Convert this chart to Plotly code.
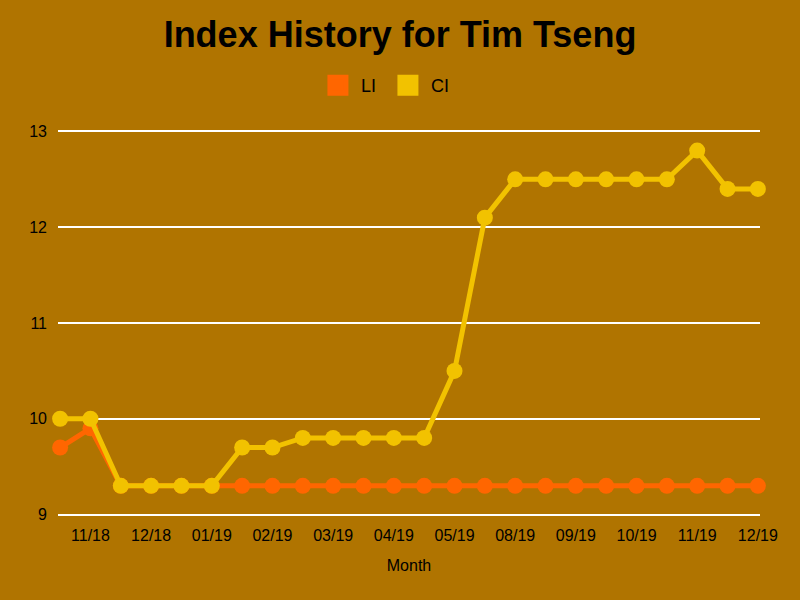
import plotly.graph_objects as go

# 24 monthly-ish readings, labels on every second point
points = list(range(24))
tick_idx = [1, 3, 5, 7, 9, 11, 13, 15, 17, 19, 21, 23]
tick_labels = ["11/18", "12/18", "01/19", "02/19", "03/19", "04/19",
               "05/19", "08/19", "09/19", "10/19", "11/19", "12/19"]

li_values = [9.7, 9.9, 9.3, 9.3, 9.3, 9.3, 9.3, 9.3, 9.3, 9.3, 9.3, 9.3,
             9.3, 9.3, 9.3, 9.3, 9.3, 9.3, 9.3, 9.3, 9.3, 9.3, 9.3, 9.3]
ci_values = [10.0, 10.0, 9.3, 9.3, 9.3, 9.3, 9.7, 9.7, 9.8, 9.8, 9.8, 9.8,
             9.8, 10.5, 12.1, 12.5, 12.5, 12.5, 12.5, 12.5, 12.5, 12.8, 12.4, 12.4]

BG = "#b07400"
LI_COLOR = "#ff6600"
CI_COLOR = "#f2c200"

fig = go.Figure()
fig.add_trace(go.Scatter(
    x=points, y=li_values, name="LI", mode="lines+markers", showlegend=False,
    line=dict(color=LI_COLOR, width=5), cliponaxis=False,
    marker=dict(color=LI_COLOR, size=16),
))
fig.add_trace(go.Scatter(
    x=points, y=ci_values, name="CI", mode="lines+markers", showlegend=False,
    line=dict(color=CI_COLOR, width=5), cliponaxis=False,
    marker=dict(color=CI_COLOR, size=16),
))
# square legend swatches
for name, color in [("LI", LI_COLOR), ("CI", CI_COLOR)]:
    fig.add_trace(go.Scatter(
        x=[None], y=[None], name=name, mode="markers",
        marker=dict(color=color, size=16, symbol="square",
                    line=dict(color=color, width=5)),
    ))

fig.update_layout(
    width=800, height=600,
    paper_bgcolor=BG, plot_bgcolor=BG,
    font=dict(family="Liberation Sans, Arial, sans-serif", size=16, color="#000000"),
    title=dict(text="<b>Index History for Tim Tseng</b>", x=0.5, xanchor="center",
               y=0.942, yanchor="middle", font=dict(size=36, color="#000000")),
    margin=dict(l=58, r=40, t=130, b=84),
    legend=dict(orientation="h", x=0.366, xanchor="left", y=1.115, yanchor="middle",
                font=dict(size=18), bgcolor="rgba(0,0,0,0)",
                itemwidth=36, entrywidth=19, entrywidthmode="pixels"),
)
fig.update_xaxes(
    range=[-0.07, 23.07], tickmode="array", tickvals=tick_idx, ticktext=tick_labels,
    showgrid=False, zeroline=False, showline=False, ticks="",
    tickfont=dict(size=16), ticklabelstandoff=8,
    title=dict(text="Month", font=dict(size=16), standoff=16),
)
fig.update_yaxes(
    range=[8.985, 13.015], tickvals=[9, 10, 11, 12, 13], showgrid=True,
    gridcolor="#ffffff", gridwidth=1.5,
    zeroline=False, showline=False, ticks="", tickfont=dict(size=16),
    ticklabelstandoff=10,
)

fig.write_html("out.html", config={"displayModeBar": False},
               post_script="document.body.style.margin='0';")
